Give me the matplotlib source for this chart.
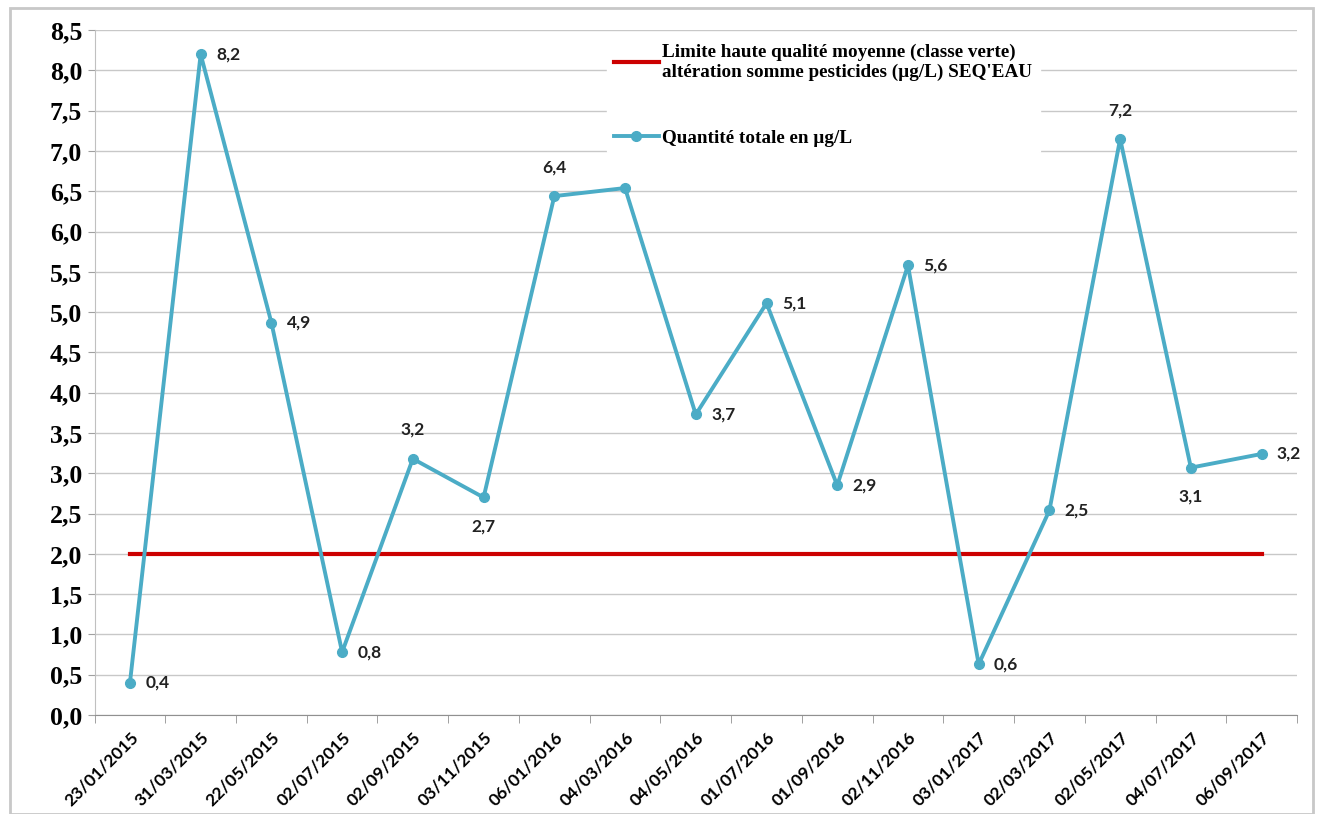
import matplotlib.pyplot as plt
from matplotlib.patches import Rectangle
from matplotlib.ticker import FuncFormatter

dates = ["23/01/2015", "31/03/2015", "22/05/2015", "02/07/2015", "02/09/2015",
         "03/11/2015", "06/01/2016", "04/03/2016", "04/05/2016", "01/07/2016",
         "01/09/2016", "02/11/2016", "03/01/2017", "02/03/2017", "02/05/2017",
         "04/07/2017", "06/09/2017"]
quantite = [0.40, 8.20, 4.87, 0.78, 3.18, 2.70, 6.44, 6.54, 3.73, 5.11,
            2.85, 5.58, 0.63, 2.54, 7.15, 3.07, 3.24]
labels = ["0,4", "8,2", "4,9", "0,8", "3,2", "2,7", "6,4", None, "3,7", "5,1",
          "2,9", "5,6", "0,6", "2,5", "7,2", "3,1", "3,2"]
label_pos = ["right", "right", "right", "right", "above", "below", "above", None,
             "right", "right", "right", "right", "right", "right", "above",
             "below", "right"]
limite = 2.0

fig = plt.figure(figsize=(13.19, 8.14), dpi=100)
ax = fig.add_axes([0.0717, 0.1216, 0.9116, 0.8414])

# cadre gris autour du graphique
fig.patches.append(Rectangle((10 / 1319, 0), 1303 / 1319, 806 / 814, transform=fig.transFigure,
                             fill=False, edgecolor="#c8c8c8", linewidth=2))

x = list(range(len(dates)))
ax.plot([x[0], x[-1]], [limite, limite], color="#cc0000", linewidth=3,
        label="Limite haute qualité moyenne (classe verte)\naltération somme pesticides (µg/L) SEQ'EAU")
ax.plot(x, quantite, color="#4bacc6", linewidth=2.8, marker="o", markersize=7,
        label="Quantité totale en µg/L")

lab_style = dict(textcoords="offset points", fontsize=12.5, fontweight="bold",
                 family="Lato", color="#222222")
for xi, v, lab, pos in zip(x, quantite, labels, label_pos):
    if lab is None:
        continue
    if pos == "right":
        ax.annotate(lab, (xi, v), xytext=(11, 0), ha="left", va="center", **lab_style)
    elif pos == "above":
        ax.annotate(lab, (xi, v), xytext=(0, 15), ha="center", va="bottom", **lab_style)
    else:
        ax.annotate(lab, (xi, v), xytext=(0, -15), ha="center", va="top", **lab_style)

ax.set_xlim(-0.5, len(dates) - 0.5)
ax.set_ylim(0, 8.5)
ax.set_yticks([i * 0.5 for i in range(18)])
ax.yaxis.set_major_formatter(FuncFormatter(lambda v, p: f"{v:.1f}".replace(".", ",")))
for t in ax.get_yticklabels():
    t.set_family("Liberation Serif")
    t.set_fontweight("bold")
    t.set_fontsize(18.5)
ax.tick_params(axis="y", length=5, color="#a0a0a0", pad=4)

ax.set_xticks(x)
ax.set_xticklabels(dates, rotation=45, ha="right", rotation_mode="anchor",
                   fontsize=12.5, fontweight="bold", family="Lato")
ax.set_xticks([i - 0.5 for i in range(len(dates) + 1)], minor=True)
ax.tick_params(axis="x", which="major", length=0, pad=10)
ax.tick_params(axis="x", which="minor", length=6, color="#909090")

ax.grid(axis="y", color="#c8c8c8", linewidth=1)
ax.set_axisbelow(True)
for s in ["top", "right"]:
    ax.spines[s].set_visible(False)
ax.spines["left"].set_color("#c0c0c0")
ax.spines["bottom"].set_color("#909090")

leg = ax.legend(loc="upper left", bbox_to_anchor=(0.418, 1.005), frameon=True,
                facecolor="white", edgecolor="white", framealpha=1,
                handlelength=2.3, handletextpad=0.2, labelspacing=2.5,
                prop={"family": "Liberation Serif", "weight": "bold", "size": 13.8})

fig.savefig("out.png", dpi=100)
